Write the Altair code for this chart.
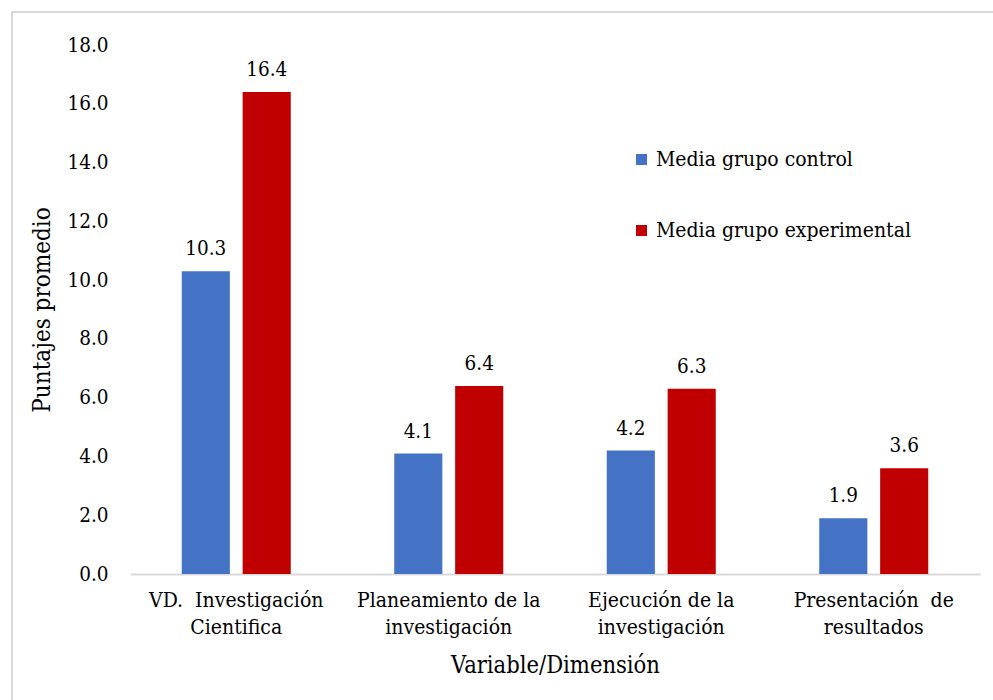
import altair as alt
import pandas as pd

# Category labels ("|" marks the line break used on the x axis)
categories = [
    "VD.\u00a0 Investigación|Cientifica",
    "Planeamiento de la|investigación",
    "Ejecución de la|investigación",
    "Presentación\u00a0 de|resultados",
]
series_names = ["Media grupo control", "Media grupo experimental"]
control_means = [10.3, 4.1, 4.2, 1.9]
experimental_means = [16.4, 6.4, 6.3, 3.6]
y_ticks = [0, 2, 4, 6, 8, 10, 12, 14, 16, 18]
colors = ["#4472C4", "#C00000"]

rows = []
for cat, c, e in zip(categories, control_means, experimental_means):
    rows.append({"dim": cat, "grupo": series_names[0], "media": c})
    rows.append({"dim": cat, "grupo": series_names[1], "media": e})
df = pd.DataFrame(rows)

FONT = "DejaVu Serif Condensed, DejaVu Serif"
W, H = 850, 529

x_enc = alt.X(
    "dim:N",
    sort=categories,
    scale=alt.Scale(paddingInner=0.487, paddingOuter=0.2435),
    axis=alt.Axis(
        title="Variable/Dimensión",
        labelExpr="split(datum.label, '|')",
        labelAngle=0,
        labelFont=FONT,
        labelFontSize=21,
        labelColor="#000000",
        labelPadding=15,
        labelLineHeight=27,
        labelLimit=400,
        ticks=False,
        domain=True,
        domainColor="#d9d9d9",
        domainWidth=2,
        titleFont=FONT,
        titleFontSize=23.5,
        titleFontWeight="normal",
        titleColor="#000000",
        titlePadding=16,
    ),
)
xoff_enc = alt.XOffset(
    "grupo:N", sort=series_names, scale=alt.Scale(paddingInner=0.21)
)
y_enc = alt.Y(
    "media:Q",
    scale=alt.Scale(domain=[0, 18], nice=False),
    axis=alt.Axis(
        title="Puntajes promedio",
        values=y_ticks,
        format=".1f",
        grid=False,
        domain=False,
        ticks=False,
        labelFont=FONT,
        labelFontSize=20.5,
        labelColor="#000000",
        labelPadding=22,
        titleFont=FONT,
        titleFontSize=24,
        titleFontWeight="normal",
        titleColor="#000000",
        titlePadding=12,
    ),
)
color_enc = alt.Color(
    "grupo:N",
    sort=series_names,
    scale=alt.Scale(domain=series_names, range=colors),
    legend=alt.Legend(
        title=None,
        orient="none",
        legendX=501,
        legendY=104,
        symbolType="square",
        symbolSize=121,
        symbolStrokeWidth=0,
        labelFont=FONT,
        labelFontSize=21,
        labelColor="#000000",
        labelOffset=4,
        labelLimit=400,
        rowPadding=49,
    ),
)

bars = alt.Chart(df).mark_bar(stroke=None).encode(
    x=x_enc, xOffset=xoff_enc, y=y_enc, color=color_enc
)

labels = alt.Chart(df).mark_text(
    font=FONT, fontSize=20.5, color="#000000", baseline="alphabetic", dy=-16
).encode(
    x=alt.X("dim:N", sort=categories),
    xOffset=alt.XOffset("grupo:N", sort=series_names),
    y="media:Q",
    text=alt.Text("media:Q", format=".1f"),
)

# light grey frame around the whole figure
frame = alt.Chart(pd.DataFrame({"k": [0]})).mark_rect(
    fill=None, stroke="#d9d9d9", strokeWidth=2
).encode(
    x=alt.value(-118), x2=alt.value(900), y=alt.value(-33), y2=alt.value(720)
)

chart = (
    alt.layer(frame, bars, labels)
    .properties(
        width=W,
        height=H,
        autosize=alt.AutoSizeParams(type="none"),
        padding={"left": 130, "top": 45, "right": 13, "bottom": 126},
        background="#ffffff",
    )
    .configure_view(stroke=None)
)

chart.save("out.html", embed_options={"renderer": "svg", "actions": False})
